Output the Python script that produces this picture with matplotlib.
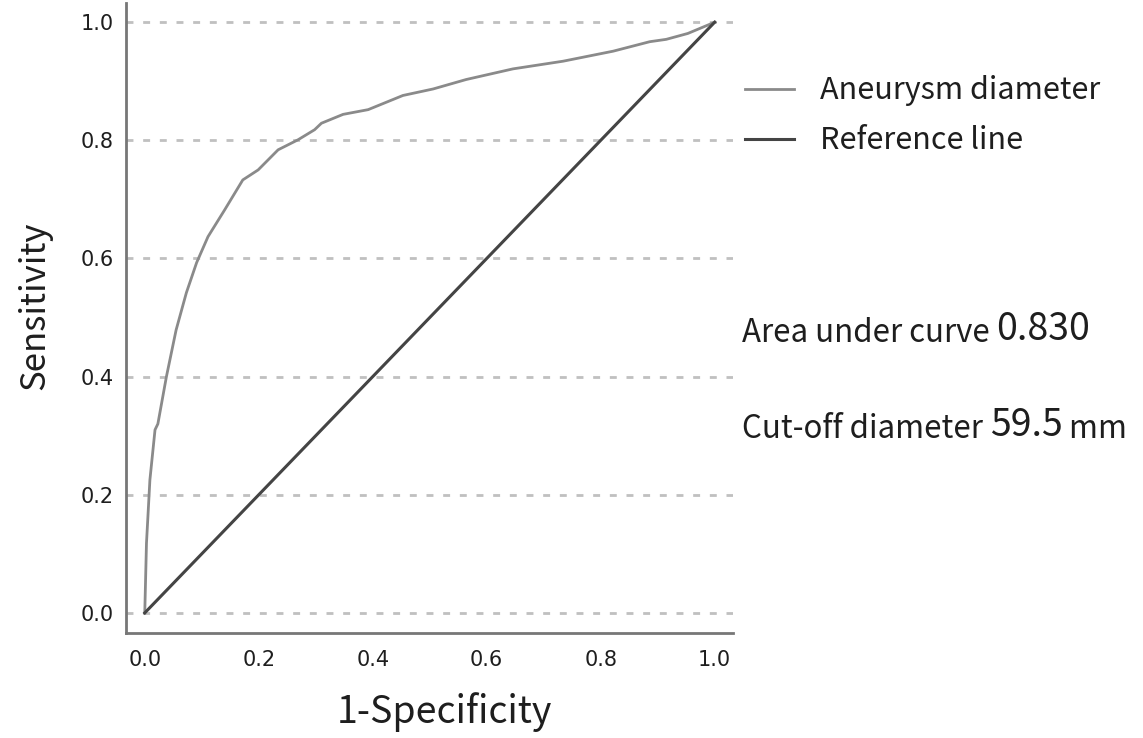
import numpy as np
import matplotlib
matplotlib.use('Agg')
from matplotlib import pyplot as plt

# ROC curve
fpr = [0.0, 0.003, 0.009, 0.018, 0.023, 0.038, 0.055, 0.073, 0.091, 0.111, 0.140,
       0.172, 0.199, 0.234, 0.269, 0.298, 0.310, 0.348, 0.392, 0.453, 0.506, 0.564,
       0.646, 0.734, 0.822, 0.886, 0.915, 0.953, 1.0]
tpr = [0.0, 0.118, 0.225, 0.310, 0.320, 0.400, 0.479, 0.542, 0.593, 0.637, 0.682,
       0.733, 0.750, 0.784, 0.801, 0.818, 0.829, 0.844, 0.852, 0.876, 0.887, 0.903,
       0.921, 0.934, 0.951, 0.967, 0.971, 0.981, 1.0]
ref_line = [0.0, 1.0]
ticks = [0.0, 0.2, 0.4, 0.6, 0.8, 1.0]
tick_labels = ['0.0', '0.2', '0.4', '0.6', '0.8', '1.0']
auc_text = '0.830'
cutoff_text = '59.5'

jp = ['Noto Sans CJK JP', 'DejaVu Sans']
txt = '#1e1e1e'

fig = plt.figure(figsize=(11.43, 7.38), dpi=100)
ax = fig.add_axes([0.1102, 0.1423, 0.531, 0.854])

ax.plot(fpr, tpr, color='#8a8a8a', lw=2.0, label='Aneurysm diameter')
ax.plot(ref_line, ref_line, color='#444444', lw=2.2, label='Reference line')

ax.set_xlim(-0.033, 1.032)
ax.set_ylim(-0.034, 1.033)
ax.set_xticks(ticks)
ax.set_xticklabels(tick_labels)
ax.set_yticks(ticks)
ax.set_yticklabels(tick_labels)
ax.tick_params(length=0, labelsize=15, colors=txt)
ax.tick_params(axis='x', pad=12)
ax.tick_params(axis='y', pad=9)

# dashed grid at each y tick
for y in ticks:
    ax.axhline(y, color='#c0c0c0', lw=2, ls=(0, (2.5, 3.5)), zorder=0)

for s in ['top', 'right']:
    ax.spines[s].set_visible(False)
for s in ['left', 'bottom']:
    ax.spines[s].set_color('#777777')
    ax.spines[s].set_linewidth(2)

ax.set_xlabel('1-Specificity', fontsize=27, family=jp, color=txt, va='center', ha='center')
ax.xaxis.set_label_coords(0.524, -0.125)
ax.set_ylabel('Sensitivity', fontsize=25, family=jp, color=txt, va='center', ha='center')
ax.yaxis.set_label_coords(-0.15, 0.52)

leg = ax.legend(loc='upper left', bbox_to_anchor=(0.628, 0.935), bbox_transform=fig.transFigure,
                frameon=False, prop={'family': jp, 'size': 22}, handlelength=1.6,
                handletextpad=0.85, labelspacing=0.62)
for t in leg.get_texts():
    t.set_color(txt)

t1 = fig.text(0.649, (738 - 342) / 738, 'Area under curve ', fontsize=22.5, family=jp, color=txt, va='baseline')
ax.annotate(auc_text, xy=(1, 0), xycoords=t1, fontsize=27, family=jp, color=txt,
            va='bottom', ha='left', annotation_clip=False)

t2 = fig.text(0.649, (738 - 438) / 738, 'Cut-off diameter ', fontsize=22.5, family=jp, color=txt, va='baseline')
t3 = ax.annotate(cutoff_text, xy=(1, 0), xycoords=t2, fontsize=27, family=jp, color=txt,
                 va='bottom', ha='left', annotation_clip=False)
ax.annotate(' mm', xy=(1, 0), xycoords=t3, fontsize=22.5, family=jp, color=txt,
            va='bottom', ha='left', annotation_clip=False)

plt.savefig('out.png', dpi=100)
